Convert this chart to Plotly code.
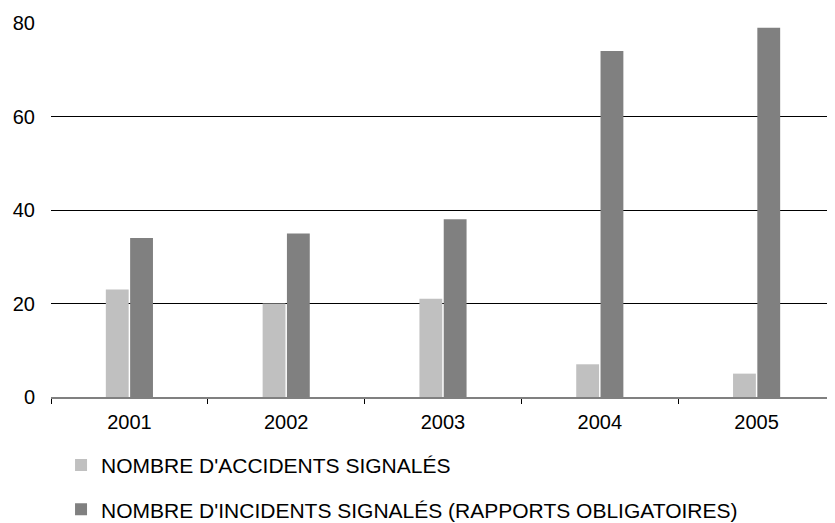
import plotly.graph_objects as go

YEARS = ["2001", "2002", "2003", "2004", "2005"]
ACCIDENTS = [23, 20, 21, 7, 5]
INCIDENTS = [34, 35, 38, 74, 79]

LIGHT = "#C0C0C0"
DARK = "#808080"
FONT = "Liberation Sans, Arial, sans-serif"

fig = go.Figure()
fig.add_trace(go.Bar(x=YEARS, y=ACCIDENTS, name="NOMBRE D'ACCIDENTS SIGNALÉS",
                     marker_color=LIGHT, marker_line_width=0, legendgroup="a"))
fig.add_trace(go.Bar(x=YEARS, y=INCIDENTS,
                     name="NOMBRE D'INCIDENTS SIGNALÉS (RAPPORTS OBLIGATOIRES)",
                     marker_color=DARK, marker_line_width=0, legendgroup="b"))

# page body has an 8px margin, so the figure is sized to fit the window
fig.update_layout(
    width=827, height=515,
    plot_bgcolor="white", paper_bgcolor="white",
    font=dict(family=FONT, size=20, color="black"),
    margin=dict(l=43, r=0, t=15, b=126, autoexpand=False),
    barmode="group", bargap=0.69, bargroupgap=0.06,
    showlegend=True,
    legend=dict(orientation="v", x=0.0128, xanchor="left", y=-0.128, yanchor="top",
                traceorder="grouped", tracegroupgap=14,
                font=dict(family=FONT, size=21, color="black"),
                itemwidth=30),
)
fig.update_yaxes(range=[0, 80], tickvals=[0, 20, 40, 60, 80], showgrid=True,
                 gridcolor="black", gridwidth=1, zeroline=False, showline=False,
                 ticks="", ticklabelstandoff=15, automargin=False)
fig.update_xaxes(showline=True, linecolor=DARK, linewidth=1.5, ticks="outside",
                 tickson="boundaries", ticklen=5, tickcolor="black", tickwidth=1,
                 showgrid=False, automargin=False, ticklabelstandoff=6)

fig.write_html("out.html")
